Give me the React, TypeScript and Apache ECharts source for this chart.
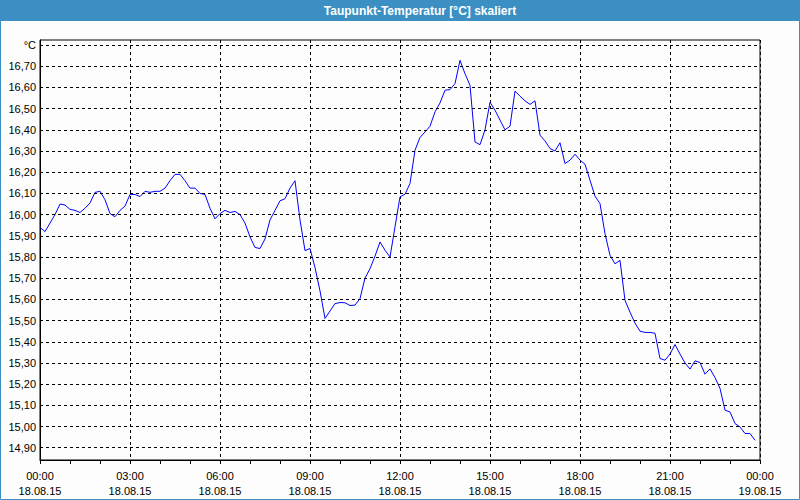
import React, { useEffect, useRef } from "react";
import * as echarts from "echarts";

// Dew point temperature, 10-minute samples starting 18.08.15 00:00
const valuesNight = [
  15.94, 15.92, 15.96, 16.0, 16.05, 16.045, 16.025, 16.02, 16.01, 16.03,
  16.055, 16.105, 16.11, 16.07, 16.005, 15.99, 16.02, 16.04, 16.095, 16.095,
  16.085, 16.11, 16.105, 16.11, 16.11, 16.125, 16.16, 16.19, 16.19, 16.16,
];
const valuesMorning = [
  16.125, 16.125, 16.1, 16.095, 16.03, 15.98, 16.005, 16.02, 16.01, 16.015,
  16.0, 15.96, 15.895, 15.845, 15.84, 15.885, 15.975, 16.02, 16.065, 16.075,
  16.125, 16.16, 15.975, 15.83, 15.84, 15.75, 15.64, 15.51, 15.545, 15.58,
];
const valuesMidday = [
  15.585, 15.584, 15.571, 15.573, 15.604, 15.7, 15.745, 15.804, 15.871, 15.832,
  15.8, 15.942, 16.084, 16.096, 16.147, 16.304, 16.364, 16.39, 16.417, 16.485,
  16.527, 16.587, 16.59, 16.618, 16.728, 16.665, 16.61, 16.343, 16.33, 16.4,
];
const valuesAfternoon = [
  16.53, 16.493, 16.446, 16.4, 16.417, 16.583, 16.559, 16.537, 16.52, 16.537,
  16.375, 16.348, 16.312, 16.3, 16.339, 16.241, 16.257, 16.285, 16.257, 16.238,
  16.162, 16.087, 16.052, 15.91, 15.808, 15.768, 15.784, 15.595, 15.54, 15.488,
];
const valuesEvening = [
  15.45, 15.444, 15.444, 15.44, 15.321, 15.313, 15.342, 15.387, 15.342, 15.3,
  15.271, 15.31, 15.302, 15.247, 15.272, 15.231, 15.18, 15.077, 15.069, 15.014,
  14.998, 14.967, 14.967, 14.935,
];

const sampleMinutes = 10;
const yGridValues = [
  14.9, 15.0, 15.1, 15.2, 15.3, 15.4, 15.5, 15.6, 15.7, 15.8, 15.9, 16.0,
  16.1, 16.2, 16.3, 16.4, 16.5, 16.6, 16.7, 16.8,
];
const yTickLabels = [
  "14,90", "15,00", "15,10", "15,20", "15,30", "15,40", "15,50", "15,60",
  "15,70", "15,80", "15,90", "16,00", "16,10", "16,20", "16,30", "16,40",
  "16,50", "16,60", "16,70", "°C",
];
const xHourLabels = ["00:00", "03:00", "06:00", "09:00", "12:00", "15:00", "18:00", "21:00", "00:00"];
const xDateLabels = ["18.08.15", "18.08.15", "18.08.15", "18.08.15", "18.08.15", "18.08.15", "18.08.15", "18.08.15", "19.08.15"];
const title = "Taupunkt-Temperatur [°C] skaliert";

const FONT = '"Liberation Sans", Arial, sans-serif';

export default function App() {
  const ref = useRef<HTMLDivElement>(null);

  useEffect(() => {
    if (!ref.current) return;
    const chart = echarts.init(ref.current, undefined, { renderer: "svg" });
    const values = [
      ...valuesNight,
      ...valuesMorning,
      ...valuesMidday,
      ...valuesAfternoon,
      ...valuesEvening,
    ];
    const data = values.map((v, i) => [(i * sampleMinutes) / 60, v]);

    chart.setOption({
      animation: false,
      backgroundColor: "#fcfdfc",
      textStyle: { fontFamily: FONT },
      graphic: [
        {
          type: "rect",
          shape: { x: 0, y: 0, width: 800, height: 21 },
          style: { fill: "#3b8fc3" },
          silent: true,
        },
        {
          type: "rect",
          shape: { x: 0.5, y: 0.5, width: 799, height: 499 },
          style: { fill: "none", stroke: "#3b8fc3", lineWidth: 1 },
          silent: true,
        },
        {
          type: "text",
          x: 420,
          y: 10.5,
          style: {
            text: title,
            fill: "#ffffff",
            font: `bold 12px ${FONT}`,
            textAlign: "center",
            textVerticalAlign: "middle",
          },
          silent: true,
        },
      ],
      grid: {
        left: 40,
        right: 40,
        top: 40,
        bottom: 40,
        show: true,
        borderColor: "#000",
        borderWidth: 1,
        backgroundColor: "transparent",
      },
      xAxis: {
        type: "value",
        min: 0,
        max: 24,
        interval: 3,
        axisLine: { show: true, lineStyle: { color: "#000", width: 1 } },
        axisTick: { show: true, length: 4, lineStyle: { color: "#000" } },
        minorTick: { show: true, splitNumber: 3, length: 4, lineStyle: { color: "#000" } },
        splitLine: { show: true, lineStyle: { color: "#000", type: [3, 3], width: 1 } },
        axisLabel: {
          margin: 8,
          color: "#000",
          fontSize: 11,
          fontFamily: FONT,
          lineHeight: 15,
          formatter: (v: number) => {
            const idx = Math.round(v / 3);
            return `${xHourLabels[idx]}\n${xDateLabels[idx]}`;
          },
        },
      },
      yAxis: {
        type: "value",
        min: 14.842,
        max: 16.824,
        axisLine: { show: true, lineStyle: { color: "#000" } },
        axisTick: { show: false },
        axisLabel: { show: false },
        splitLine: { show: false },
      },
      series: [
        {
          type: "line",
          data,
          showSymbol: false,
          symbol: "none",
          lineStyle: { color: "#0000ff", width: 1 },
          itemStyle: { color: "#0000ff" },
          emphasis: { disabled: true },
          silent: true,
          markLine: {
            silent: true,
            symbol: ["none", "none"],
            animation: false,
            lineStyle: { color: "#000", type: [3, 3], width: 1 },
            emphasis: { disabled: true },
            label: {
              show: true,
              position: "start",
              distance: 4,
              formatter: "{b}",
              color: "#000",
              fontSize: 11,
              fontFamily: FONT,
            },
            data: yGridValues.map((v, i) => ({ yAxis: v, name: yTickLabels[i] })),
          },
        },
      ],
    });

    return () => chart.dispose();
  }, []);

  return (
    <div
      ref={ref}
      style={{ position: "fixed", left: 0, top: 0, width: 800, height: 500 }}
    />
  );
}
